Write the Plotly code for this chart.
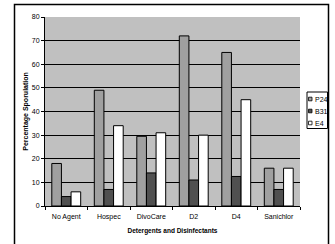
import plotly.graph_objects as go

categories = ["No Agent", "Hospec", "DivoCare", "D2", "D4", "Sanichlor"]
p24 = [18, 49, 29.5, 72, 65, 16]
b31 = [4, 7, 14, 11, 12.5, 7]
e4 = [6, 34, 31, 30, 45, 16]
y_ticks = [0, 10, 20, 30, 40, 50, 60, 70, 80]
series = [("P24", p24, "#a0a0a0"), ("B31", b31, "#505050"), ("E4", e4, "#ffffff")]

W, H = 335, 244
L, R, T, B = 45, 35, 17, 38
pw, ph = W - L - R, H - T - B

def px_x(x):
    return (x - L) / pw

def px_y(y):
    return (T + ph - y) / ph

fig = go.Figure()
for name, vals, col in series:
    fig.add_trace(go.Bar(name=name, x=categories, y=vals, opacity=1, hoverinfo="skip",
                         marker=dict(color=col, opacity=1, line=dict(color="#000", width=1))))

shapes = [dict(type="rect", xref="paper", yref="paper",
               x0=px_x(14.5), x1=px_x(328.5), y0=px_y(260), y1=px_y(4.5),
               line=dict(color="#000", width=1.5), fillcolor="rgba(0,0,0,0)", layer="below"),
          dict(type="rect", xref="paper", yref="paper",
               x0=px_x(307), x1=px_x(327.5), y0=px_y(128.5), y1=px_y(92),
               line=dict(color="#000", width=1), fillcolor="white")]
annotations = []
for i, (name, vals, col) in enumerate(series):
    yc = 99 + i * 12
    shapes.append(dict(type="rect", xref="paper", yref="paper",
                       x0=px_x(308.5), x1=px_x(312), y0=px_y(yc + 1.8), y1=px_y(yc - 1.8),
                       line=dict(color="#000", width=0.8), fillcolor=col))
    annotations.append(dict(xref="paper", yref="paper", x=px_x(312.5), y=px_y(yc),
                            xanchor="left", yanchor="middle", text=name, showarrow=False,
                            font=dict(size=7, color="#000")))

fig.update_layout(
    width=W, height=H,
    margin=dict(l=L, r=R, t=T, b=B, pad=0, autoexpand=False),
    paper_bgcolor="white", plot_bgcolor="#c0c0c0",
    barmode="group", bargap=0.32, bargroupgap=0,
    showlegend=False, hovermode=False,
    font=dict(family="Liberation Sans, Arial, sans-serif", size=7, color="#000"),
    xaxis=dict(showline=True, linecolor="#000", linewidth=1, ticks="outside", tickson="boundaries",
               ticklen=3, tickcolor="#000", showgrid=False, tickangle=0, automargin=False,
               ticklabelstandoff=4, tickfont=dict(size=7, color="#000"),
               title=dict(text="<b>Detergents and Disinfectants</b>", standoff=8,
                          font=dict(size=6.5, color="#000"))),
    yaxis=dict(range=[0, 80], tickvals=y_ticks, showline=True, linecolor="#000", linewidth=1,
               ticks="outside", ticklen=3, tickcolor="#000", showgrid=True, gridcolor="#000",
               gridwidth=1, zeroline=False, automargin=False, tickfont=dict(size=7, color="#000"),
               title=dict(text="<b>Percentage Sporulation</b>", standoff=2,
                          font=dict(size=7, color="#000"))),
    shapes=shapes,
    annotations=annotations,
)
fig.write_html("out.html", config={"displayModeBar": False, "staticPlot": True},
               post_script="document.body.style.margin='0';")
